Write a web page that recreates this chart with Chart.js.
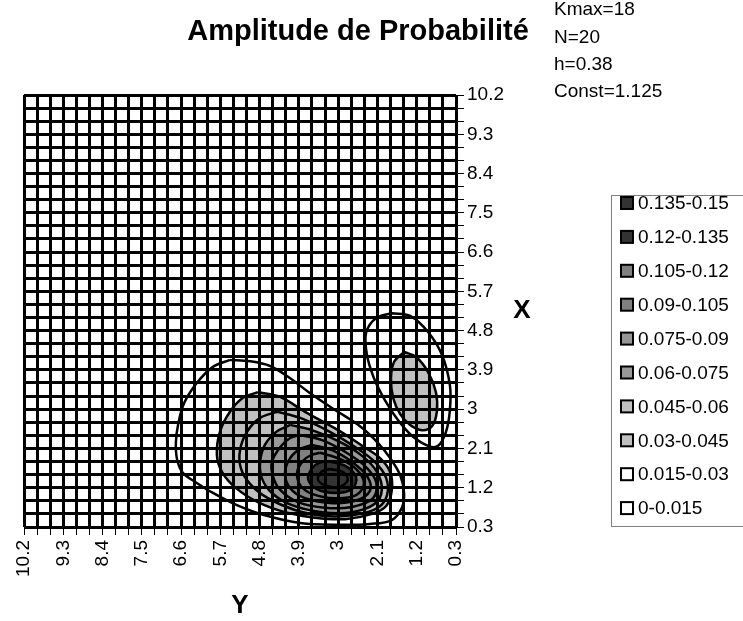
<!DOCTYPE html>
<html>
<head>
<meta charset="utf-8">
<script src="https://cdn.jsdelivr.net/npm/chart.js@4.4.1/dist/chart.umd.min.js"></script>
<style>
  html, body { margin: 0; padding: 0; background: #fff; }
</style>
</head>
<body>
<canvas id="contourChart" width="743" height="621"></canvas>
<script>
// contour levels and the legend bands (lowest first)
var levels = [0.015, 0.03, 0.045, 0.06, 0.075, 0.09, 0.105, 0.12, 0.135];
var bandLabels = ['0-0.015', '0.015-0.03', '0.03-0.045', '0.045-0.06', '0.06-0.075',
                  '0.075-0.09', '0.09-0.105', '0.105-0.12', '0.12-0.135', '0.135-0.15'];
var bandColors = ['#ffffff', '#ffffff', '#c0c0c0', '#c0c0c0', '#999999',
                  '#969696', '#808080', '#808080', '#333333', '#333333'];
var tickLabels = ['10.2', '9.3', '8.4', '7.5', '6.6', '5.7', '4.8', '3.9', '3', '2.1', '1.2', '0.3'];
var infoLines = ['Kmax=18', 'N=20', 'h=0.38', 'Const=1.125'];
var axisMin = 0.3, axisMax = 10.2, gridStep = 0.3;

// contour rings, each point is [Y, X]
var ringA015 = [[5.48,4.13],[5.02,4.10],[4.56,3.99],[4.10,3.71],[3.65,3.37],[3.07,2.98],[2.50,2.61],
  [2.09,2.23],[1.81,1.88],[1.58,1.49],[1.49,1.08],[1.54,0.74],[1.77,0.46],[2.27,0.37],[2.96,0.35],
  [3.87,0.39],[4.72,0.58],[5.32,0.80],[5.87,1.08],[6.24,1.31],[6.56,1.54],[6.69,1.84],[6.72,2.23],
  [6.67,2.64],[6.53,3.14],[6.24,3.60],[5.87,3.97]];
var ringA030 = [[4.84,3.39],[4.33,3.28],[3.76,2.94],[3.00,2.52],[2.45,2.16],[2.04,1.88],[1.81,1.56],
  [1.77,1.15],[1.90,0.78],[2.22,0.60],[2.84,0.48],[3.53,0.51],[4.22,0.64],[4.84,0.87],[5.34,1.19],
  [5.66,1.56],[5.78,1.95],[5.71,2.48],[5.48,2.94],[5.18,3.26]];
var ring045 = [[4.40,2.94],[3.87,2.80],[3.19,2.48],[2.61,2.13],[2.16,1.79],[1.90,1.42],[1.88,1.03],
  [2.09,0.74],[2.61,0.58],[3.30,0.55],[3.99,0.69],[4.61,0.96],[5.02,1.29],[5.23,1.65],[5.25,2.06],
  [5.09,2.48],[4.79,2.80]];
var ring060 = [[4.10,2.64],[3.60,2.52],[2.96,2.25],[2.45,1.93],[2.11,1.56],[2.00,1.15],[2.16,0.83],
  [2.68,0.64],[3.37,0.64],[4.06,0.80],[4.52,1.08],[4.75,1.42],[4.79,1.79],[4.68,2.18],[4.42,2.48]];
var ring075 = [[3.87,2.41],[3.37,2.29],[2.84,2.02],[2.39,1.70],[2.13,1.33],[2.20,0.96],[2.68,0.76],
  [3.30,0.74],[3.92,0.87],[4.33,1.15],[4.49,1.45],[4.52,1.79],[4.33,2.13],[4.10,2.34]];
var ring090 = [[3.60,2.18],[3.14,2.06],[2.68,1.79],[2.34,1.47],[2.27,1.13],[2.61,0.90],[3.19,0.85],
  [3.76,0.96],[4.10,1.19],[4.22,1.54],[4.10,1.88],[3.87,2.09]];
var ring105 = [[3.42,2.00],[2.96,1.86],[2.57,1.61],[2.41,1.29],[2.59,1.03],[3.07,0.96],[3.60,1.06],
  [3.87,1.26],[3.94,1.56],[3.81,1.81],[3.62,1.95]];
var ring120 = [[3.23,1.81],[2.84,1.70],[2.59,1.45],[2.68,1.17],[3.07,1.08],[3.49,1.17],[3.69,1.40],
  [3.60,1.65],[3.44,1.77]];
var ring135 = [[3.19,1.63],[2.89,1.56],[2.78,1.38],[2.96,1.22],[3.26,1.24],[3.46,1.38],[3.39,1.56]];
var ringB015 = [[1.77,5.20],[1.35,5.14],[0.94,4.77],[0.62,4.24],[0.44,3.55],[0.44,2.98],[0.53,2.48],
  [0.71,2.16],[0.94,2.16],[1.31,2.39],[1.63,2.75],[1.93,3.21],[2.18,3.71],[2.34,4.24],[2.36,4.75],
  [2.13,5.09]];
var ringB030 = [[1.49,4.31],[1.22,4.20],[0.94,3.85],[0.76,3.39],[0.74,2.94],[0.85,2.61],[1.08,2.52],
  [1.35,2.64],[1.58,2.89],[1.74,3.26],[1.79,3.71],[1.72,4.08]];

var rings = [
  { pts: ringA015, level: 0.015 }, { pts: ringB015, level: 0.015 },
  { pts: ringA030, level: 0.03 }, { pts: ringB030, level: 0.03 },
  { pts: ring045, level: 0.045 }, { pts: ring060, level: 0.06 },
  { pts: ring075, level: 0.075 }, { pts: ring090, level: 0.09 },
  { pts: ring105, level: 0.105 }, { pts: ring120, level: 0.12 },
  { pts: ring135, level: 0.135 }
];

var FONT = 'Arial, "Liberation Sans", sans-serif';
Chart.defaults.font.family = FONT;
Chart.defaults.color = '#000';

var datasets = rings.map(function(r, i) {
  var data = r.pts.map(function(p) { return { x: p[0], y: p[1] }; });
  data.push({ x: r.pts[0][0], y: r.pts[0][1] });  // close the ring
  return {
    data: data,
    showLine: true,
    fill: 'shape',
    backgroundColor: bandColors[levels.indexOf(r.level) + 1],
    borderColor: '#000',
    borderWidth: 2.5,
    tension: 0.35,
    pointRadius: 0,
    pointHoverRadius: 0,
    order: rings.length - i   // outer rings underneath
  };
});

function gridTicks(scale) {
  var t = [];
  var n = Math.round((axisMax - axisMin) / gridStep);
  for (var i = 0; i <= n; i++) t.push({ value: Math.round((axisMin + i * gridStep) * 10) / 10 });
  scale.ticks = t;
}
function tickText(value) {
  var s = String(Math.round(value * 10) / 10);
  return tickLabels.indexOf(s) >= 0 ? s : '';
}
var gridOpts = { color: '#000', lineWidth: 3, z: 1, drawTicks: true, tickLength: 8, tickWidth: 1, tickColor: '#000' };

var chartText = {
  id: 'chartText',
  afterDraw: function(chart) {
    var ctx = chart.ctx;
    ctx.save();
    ctx.fillStyle = '#000';
    ctx.textAlign = 'center';
    ctx.textBaseline = 'middle';
    ctx.font = 'bold 29px ' + FONT;
    ctx.fillText('Amplitude de Probabilité', 358, 32);
    ctx.font = 'bold 26px ' + FONT;
    ctx.fillText('X', 522, 311);

    ctx.font = '19px ' + FONT;
    ctx.textAlign = 'left';
    infoLines.forEach(function(s, i) { ctx.fillText(s, 554, 10 + i * 27.3); });

    // legend box, highest band at the top
    ctx.strokeStyle = '#808080';
    ctx.lineWidth = 1;
    ctx.strokeRect(611.5, 195.5, 200, 331);
    for (var i = 0; i < bandLabels.length; i++) {
      var k = bandLabels.length - 1 - i;
      var y = 203 + i * 33.9;
      ctx.fillStyle = bandColors[k];
      ctx.fillRect(621, y - 6, 12, 12);
      ctx.strokeStyle = '#000';
      ctx.lineWidth = 2;
      ctx.strokeRect(621, y - 6, 12, 12);
      ctx.fillStyle = '#000';
      ctx.fillText(bandLabels[k], 638, y + 1);
    }
    ctx.restore();
  }
};

new Chart(document.getElementById('contourChart').getContext('2d'), {
  type: 'scatter',
  data: { datasets: datasets },
  options: {
    responsive: false,
    animation: false,
    layout: { padding: { left: 24, top: 95, right: 232, bottom: 0 } },
    plugins: { legend: { display: false }, tooltip: { enabled: false } },
    scales: {
      x: {
        type: 'linear', min: axisMin, max: axisMax, reverse: true,
        afterBuildTicks: gridTicks,
        afterFit: function(scale) { scale.height = 94; },
        grid: gridOpts,
        border: { display: false },
        ticks: { autoSkip: false, minRotation: 90, maxRotation: 90, padding: 5, font: { size: 19 }, callback: tickText },
        title: { display: true, text: 'Y', font: { size: 26, weight: 'bold' }, padding: { top: 0, bottom: 0 } }
      },
      y: {
        type: 'linear', position: 'right', min: axisMin, max: axisMax,
        afterBuildTicks: gridTicks,
        afterFit: function(scale) { scale.width = 55; },
        grid: gridOpts,
        border: { display: false },
        ticks: { autoSkip: false, padding: 3, font: { size: 19 }, callback: tickText }
      }
    }
  },
  plugins: [chartText]
});
</script>
</body>
</html>
